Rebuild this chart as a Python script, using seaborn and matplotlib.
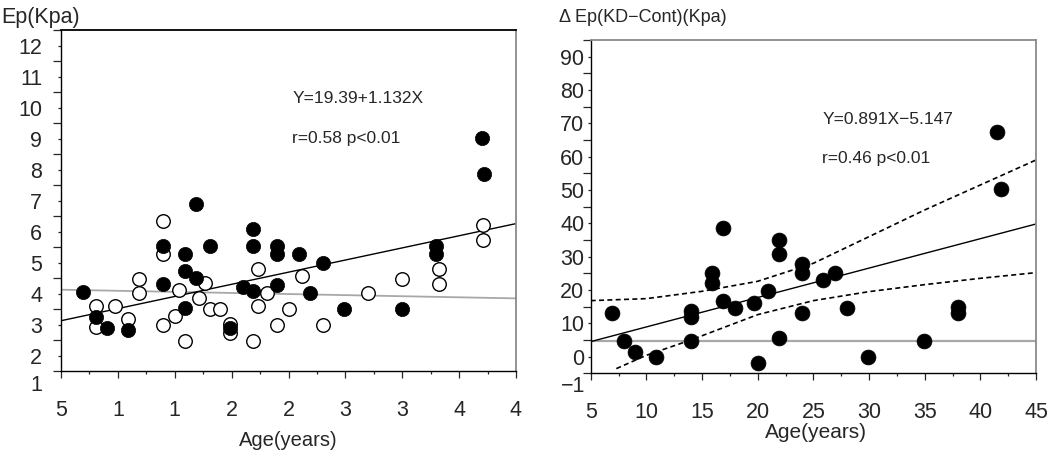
import matplotlib
matplotlib.use("Agg")
import matplotlib.pyplot as plt
import matplotlib.transforms as mtransforms
from matplotlib.ticker import MultipleLocator, FixedLocator
import seaborn as sns
import pandas as pd

# ---------------- data: left panel ----------------
left_filled_x = [6.9, 8.1, 9.0, 10.9, 14.0, 14.0, 15.9, 15.9, 15.9, 16.9, 16.9, 18.1,
                 19.9, 21.0, 21.9, 21.9, 21.9, 24.0, 24.0, 24.0, 25.9, 26.9, 28.0,
                 29.9, 35.0, 38.0, 38.0, 42.0, 42.2]
left_filled_y = [4.04, 3.25, 2.89, 2.84, 5.53, 4.32, 5.29, 4.72, 3.54, 6.9, 4.51, 5.53,
                 2.89, 4.22, 6.09, 5.53, 4.08, 5.53, 5.29, 4.29, 5.29, 4.02, 4.99,
                 3.52, 3.52, 5.53, 5.29, 9.03, 7.85]
left_open_x = [8.1, 8.1, 9.75, 10.85, 11.9, 11.9, 14.0, 14.0, 14.0, 15.0, 15.4, 15.9,
               17.1, 17.7, 18.1, 19.0, 19.9, 19.9, 21.9, 22.3, 22.3, 23.1, 24.0, 25.0,
               26.2, 28.0, 35.0, 32.0, 38.2, 38.2, 42.1, 42.1]
left_open_y = [3.61, 2.94, 3.61, 3.18, 4.48, 4.02, 6.33, 5.29, 2.98, 3.29, 4.11, 2.48,
               3.86, 4.34, 3.52, 3.52, 3.03, 2.73, 2.48, 4.81, 3.61, 4.02, 2.98, 3.52,
               4.56, 3.0, 4.48, 4.02, 4.81, 4.32, 6.2, 5.72]
left_fit_x = [5, 45]
left_fit_filled_y = [3.13, 6.26]
left_fit_open_y = [4.13, 3.85]
left_xticks = [5, 10, 15, 20, 25, 30, 35, 40, 45]
left_xlabels = ["5", "1", "1", "2", "2", "3", "3", "4", "4"]
left_yticks = [2, 3, 4, 5, 6, 7, 8, 9, 10, 11, 12]
left_ylabels = ["2", "3", "4", "5", "6", "7", "8", "9", "10", "11", "12"]

# ---------------- data: right panel ----------------
right_x = [6.9, 8.0, 9.0, 10.9, 14.0, 14.0, 14.0, 15.9, 15.9, 16.9, 16.9, 18.0,
           19.7, 20.0, 20.9, 21.9, 21.9, 21.9, 24.0, 24.0, 24.0, 25.9, 26.9, 28.0,
           29.9, 34.9, 38.0, 38.0, 41.5, 41.9]
right_y = [13.0, 4.7, 1.5, 0.0, 13.7, 11.8, 4.7, 25.2, 22.0, 38.5, 16.7, 14.7,
           16.0, -2.0, 19.8, 35.0, 30.8, 5.7, 27.8, 25.0, 13.0, 23.0, 25.2, 14.7,
           0.0, 4.7, 14.8, 13.0, 67.4, 50.3]
right_fit_x = [5, 45]
right_fit_y = [4.5, 39.8]
right_ref_y = 4.6
band_upper_x = [5, 10, 15, 20, 25, 30, 35, 40, 45]
band_upper_y = [16.8, 17.4, 19.6, 22.6, 28.0, 36.0, 44.0, 51.5, 59.0]
band_lower_x = [7.3, 10, 14, 20, 25, 30, 35, 40, 45]
band_lower_y = [-3.6, 0.4, 5.0, 12.6, 16.8, 19.5, 21.6, 23.5, 25.2]
right_xticks = [5, 10, 15, 20, 25, 30, 35, 40, 45]
right_xlabels = ["5", "10", "15", "20", "25", "30", "35", "40", "45"]
right_yticks = [0, 10, 20, 30, 40, 50, 60, 70, 80, 90]
right_ylabels = ["0", "10", "20", "30", "40", "50", "60", "70", "80", "90"]

# ---------------- style ----------------
sns.set_style("white")
plt.rcParams["font.family"] = ["Liberation Sans", "DejaVu Sans"]

W, H = 1059, 459
fig = plt.figure(figsize=(W / 100, H / 100), dpi=100)
ax1 = fig.add_axes([61 / W, 1 - 371.3 / H, (516 - 61) / W, (371.3 - 30) / H])
ax2 = fig.add_axes([590.7 / W, 1 - 373.3 / H, (1036 - 590.7) / W, (373.3 - 40) / H])

TICK_FS = 15.5

def style_axes(ax, top_color, ypad, xlim, ylim, xminor, yminor):
    ax.set_xlim(*xlim)
    ax.set_ylim(*ylim)
    for s in ("left", "bottom"):
        ax.spines[s].set_color("black")
        ax.spines[s].set_linewidth(1.0)
    ax.spines["top"].set_color(top_color)
    ax.spines["right"].set_color("#8a8a8a")
    ax.spines["right"].set_linewidth(1.3)
    ax.spines["top"].set_linewidth(1.3)
    ax.xaxis.set_minor_locator(FixedLocator(xminor))
    ax.yaxis.set_minor_locator(FixedLocator(yminor))
    ax.tick_params(axis="x", which="major", direction="out", length=5, width=0.9,
                   pad=16, labelsize=TICK_FS, bottom=True)
    ax.tick_params(axis="x", which="minor", direction="out", length=2.5, width=0.9,
                   bottom=True)
    ax.tick_params(axis="y", which="major", direction="out", length=2.5, width=0.9,
                   pad=ypad, labelsize=TICK_FS, left=True)
    ax.tick_params(axis="y", which="minor", direction="out", length=5.5, width=0.9,
                   left=True)
    ax.set_xlabel("")
    ax.set_ylabel("")

# ---------------- left panel ----------------
df_lf = pd.DataFrame({"x": left_filled_x, "y": left_filled_y})
df_lo = pd.DataFrame({"x": left_open_x, "y": left_open_y})
sns.lineplot(x=left_fit_x, y=left_fit_open_y, ax=ax1, color="#a8a8a8", lw=1.3)
sns.lineplot(x=left_fit_x, y=left_fit_filled_y, ax=ax1, color="black", lw=1.0)
sns.scatterplot(data=df_lo, x="x", y="y", ax=ax1, s=95, facecolor="white",
                edgecolor="black", linewidth=1.0, zorder=3)
sns.scatterplot(data=df_lf, x="x", y="y", ax=ax1, s=105, color="black",
                edgecolor="black", linewidth=0.5, zorder=4)
style_axes(ax1, "black", 11, (5, 45), (1.5, 12.5),
           [7.5, 12.5, 17.5, 22.5, 27.5, 32.5, 37.5, 42.5],
           [1.5, 2.5, 3.5, 4.5, 5.5, 6.5, 7.5, 8.5, 9.5, 10.5, 11.5, 12.5])
ax1.set_xticks(left_xticks)
ax1.set_xticklabels(left_xlabels)
ax1.set_yticks(left_yticks)
ax1.set_yticklabels(left_ylabels)
trans1 = mtransforms.blended_transform_factory(ax1.transAxes, ax1.transData)
ax1.text(-0.042, 1.05, "1", transform=trans1, ha="right", va="center",
         fontsize=TICK_FS, clip_on=False)
ax1.text(0.51, 9.55, "Y=19.39+1.132X", transform=ax1.transData, fontsize=12.5,
         ha="left", va="center")
ax1.text(0.51, 8.25, "r=0.58 p<0.01", transform=ax1.transData, fontsize=12.5,
         ha="left", va="center")
# place equation text by axes fraction instead
ax1.texts[-2].set_transform(ax1.transAxes)
ax1.texts[-2].set_position((0.508, 0.80))
ax1.texts[-1].set_transform(ax1.transAxes)
ax1.texts[-1].set_position((0.508, 0.683))
fig.text(288.5 / W, 1 - 441 / H, "Age(years)", ha="center", va="center", fontsize=14.5)
fig.text(1 / W, 1 - 18 / H, "Ep(Kpa)", ha="left", va="center", fontsize=15.5)

# ---------------- right panel ----------------
df_r = pd.DataFrame({"x": right_x, "y": right_y})
ax2.axhline(right_ref_y, color="#a8a8a8", lw=1.6, zorder=1)
sns.lineplot(x=right_fit_x, y=right_fit_y, ax=ax2, color="black", lw=1.0)
sns.lineplot(x=band_upper_x, y=band_upper_y, ax=ax2, color="black", lw=1.2,
             linestyle=(0, (3, 2)))
sns.lineplot(x=band_lower_x, y=band_lower_y, ax=ax2, color="black", lw=1.2,
             linestyle=(0, (3, 2)))
sns.scatterplot(data=df_r, x="x", y="y", ax=ax2, s=115, color="black",
                edgecolor="black", linewidth=0.5, zorder=4)
style_axes(ax2, "#8a8a8a", 2, (5, 45), (-5, 95),
           [7.5, 12.5, 17.5, 22.5, 27.5, 32.5, 37.5, 42.5],
           [-5, 5, 15, 25, 35, 45, 55, 65, 75, 85, 95])
ax2.set_xticks(right_xticks)
ax2.set_xticklabels(right_xlabels)
ax2.set_yticks(right_yticks)
ax2.set_yticklabels(right_ylabels)
trans2 = mtransforms.blended_transform_factory(ax2.transAxes, ax2.transData)
ax2.text(-0.012, -9.0, "\u22121", transform=trans2, ha="right", va="center",
         fontsize=TICK_FS, clip_on=False)
ax2.text(0.52, 0.76, "Y=0.891X\u22125.147", transform=ax2.transAxes, fontsize=12.5,
         ha="left", va="center")
ax2.text(0.52, 0.645, "r=0.46 p<0.01", transform=ax2.transAxes, fontsize=12.5,
         ha="left", va="center")
fig.text(816 / W, 1 - 433 / H, "Age(years)", ha="center", va="center", fontsize=15)
fig.text(559 / W, 1 - 17 / H, "\u0394 Ep(KD\u2212Cont)(Kpa)", ha="left", va="center",
         fontsize=13)

fig.savefig("out.png", dpi=100)
